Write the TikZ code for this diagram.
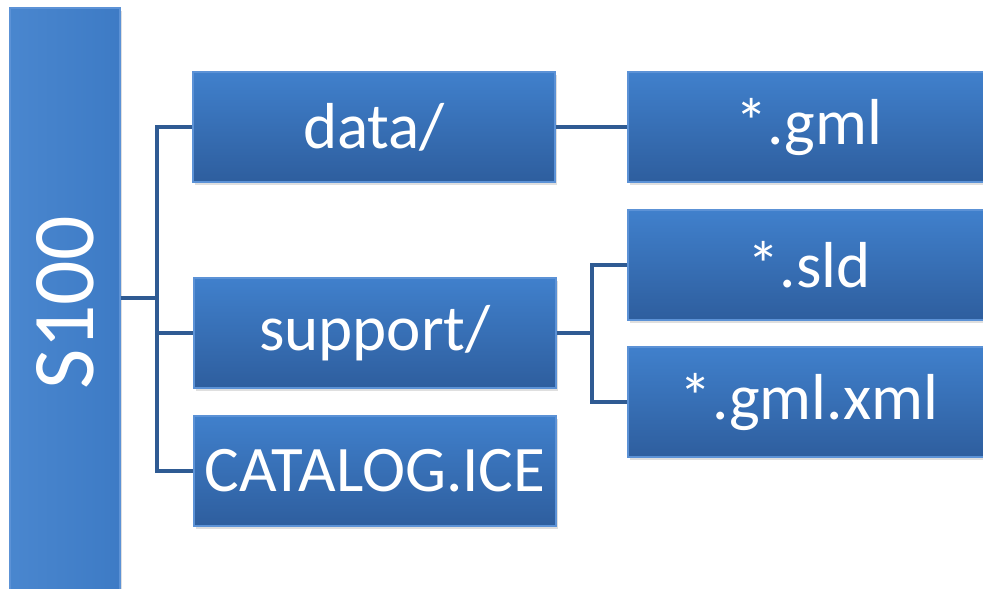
\documentclass[tikz,border=0pt]{standalone}
\usepackage{fontspec}
\setmainfont{Carlito}
\usetikzlibrary{shadows}
\definecolor{boxtop}{RGB}{64,128,204}
\definecolor{boxbot}{RGB}{46,94,158}
\definecolor{boxedge}{RGB}{92,146,214}
\definecolor{wire}{RGB}{47,91,147}
\begin{document}
\begin{tikzpicture}[x=0.02cm,y=-0.02cm,
  folder/.style={rectangle, inner sep=0pt, minimum width=7.24cm, minimum height=2.2cm,
    top color=boxtop, bottom color=boxbot, draw=boxedge, line width=0.8pt,
    drop shadow={opacity=0.25, shadow xshift=0.04cm, shadow yshift=-0.06cm},
    text=white, font=\fontsize{37}{40}\selectfont},
  link/.style={draw=wire, line width=2.2pt}]
\useasboundingbox (0,0) rectangle (983,588);
%
\node[folder, minimum width=2.2cm, minimum height=11.8cm,
  left color=boxtop!95!white, right color=boxtop!85!boxbot,
  font=\fontsize{50}{54}\selectfont] (S100) at (65,303) {\rotatebox{90}{S100}};
%
\node[folder] (data) at (374,127) {data/};
\node[folder] (support) at (375,333) {support/};
\node[folder] (catalog) at (375,471) {CATALOG.ICE};
%
\node[folder] (gml) at (809,127) {*.gml};
\node[folder] (sld) at (809,265) {*.sld};
\node[folder] (gmlxml) at (809,402) {*.gml.xml};
%
\coordinate (root) at (157,298);
\coordinate (sup) at (592,333);
\draw[link] (S100.east |- root) -- (root);
\draw[link] (root) |- (data);
\draw[link] (root) |- (support);
\draw[link] (root) |- (catalog);
\draw[link] (data) -- (gml);
\draw[link] (support) -- (sup);
\draw[link] (sup) |- (sld);
\draw[link] (sup) |- (gmlxml);
\end{tikzpicture}
\end{document}
